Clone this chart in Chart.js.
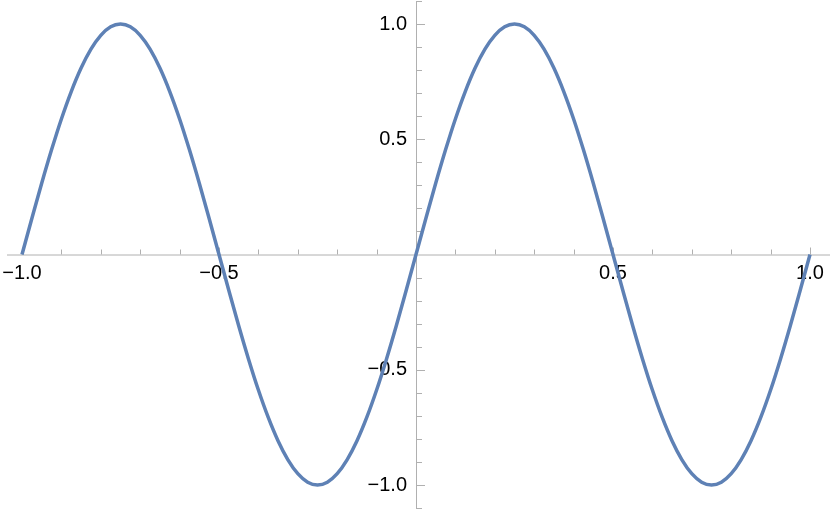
<!DOCTYPE html>
<html>
<head>
<meta charset="utf-8">
<script src="https://cdn.jsdelivr.net/npm/chart.js@4/dist/chart.umd.min.js"></script>
<style>
  html, body { margin: 0; padding: 0; background: #fff; }
  #wrap { width: 830px; height: 512px; }
</style>
</head>
<body>
<div id="wrap"><canvas id="plot" width="830" height="512"></canvas></div>
<script>
// sample points
var xs = [
  -1.0, -0.975, -0.95, -0.925, -0.9, -0.875, -0.85, -0.825, -0.8, -0.775,
  -0.75, -0.725, -0.7, -0.675, -0.65, -0.625, -0.6, -0.575, -0.55, -0.525,
  -0.5, -0.475, -0.45, -0.425, -0.4, -0.375, -0.35, -0.325, -0.3, -0.275,
  -0.25, -0.225, -0.2, -0.175, -0.15, -0.125, -0.1, -0.075, -0.05, -0.025,
  0.0, 0.025, 0.05, 0.075, 0.1, 0.125, 0.15, 0.175, 0.2, 0.225,
  0.25, 0.275, 0.3, 0.325, 0.35, 0.375, 0.4, 0.425, 0.45, 0.475,
  0.5, 0.525, 0.55, 0.575, 0.6, 0.625, 0.65, 0.675, 0.7, 0.725,
  0.75, 0.775, 0.8, 0.825, 0.85, 0.875, 0.9, 0.925, 0.95, 0.975,
  1.0
];
var ys = [
  0, 0.156, 0.309, 0.454, 0.588, 0.707, 0.809, 0.891, 0.951, 0.988,
  1, 0.988, 0.951, 0.891, 0.809, 0.707, 0.588, 0.454, 0.309, 0.156,
  0, -0.156, -0.309, -0.454, -0.588, -0.707, -0.809, -0.891, -0.951, -0.988,
  -1, -0.988, -0.951, -0.891, -0.809, -0.707, -0.588, -0.454, -0.309, -0.156,
  0, 0.156, 0.309, 0.454, 0.588, 0.707, 0.809, 0.891, 0.951, 0.988,
  1, 0.988, 0.951, 0.891, 0.809, 0.707, 0.588, 0.454, 0.309, 0.156,
  0, -0.156, -0.309, -0.454, -0.588, -0.707, -0.809, -0.891, -0.951, -0.988,
  -1, -0.988, -0.951, -0.891, -0.809, -0.707, -0.588, -0.454, -0.309, -0.156,
  0
];
var xTickLabels = [-1.0, -0.5, 0.5, 1.0];
var yTickLabels = [-1.0, -0.5, 0.5, 1.0];

var points = xs.map(function(x, i) { return { x: x, y: ys[i] }; });

function fmt(v) {
  var s = Math.abs(v).toFixed(1);
  return (v < 0 ? '\u2212' : '') + s;
}

// draws Mathematica style axes crossing at the origin
var originAxes = {
  id: 'originAxes',
  beforeDatasetsDraw: function(chart) {
    var c = chart.ctx, sx = chart.scales.x, sy = chart.scales.y;
    var x0 = sx.getPixelForValue(0), y0 = sy.getPixelForValue(0);
    c.save();
    c.strokeStyle = '#b0b0b0';
    c.lineWidth = 1;
    c.beginPath();
    c.moveTo(7, y0 + 0.5); c.lineTo(830, y0 + 0.5);
    c.moveTo(x0 + 0.5, 1); c.lineTo(x0 + 0.5, 508);
    for (var i = -10; i <= 10; i++) {
      if (i === 0) continue;
      var major = i % 5 === 0;
      var px = Math.round(sx.getPixelForValue(i / 10)) + 0.5;
      c.moveTo(px, y0); c.lineTo(px, y0 - (major ? 7 : 5));
      var py = Math.round(sy.getPixelForValue(i / 10)) + 0.5;
      c.moveTo(x0, py); c.lineTo(x0 + (major ? 9 : 6), py);
    }
    c.stroke();
    // small extra ticks past the ends of the y range
    c.beginPath();
    [1.1, -1.1].forEach(function(v) {
      var py = Math.round(sy.getPixelForValue(v)) + 0.5;
      c.moveTo(x0, py); c.lineTo(x0 + 6, py);
    });
    c.stroke();

    c.fillStyle = '#000';
    c.font = '20px "Liberation Sans", Arial, sans-serif';
    c.textAlign = 'center';
    c.textBaseline = 'top';
    xTickLabels.forEach(function(v) {
      c.fillText(fmt(v), sx.getPixelForValue(v), y0 + 9);
    });
    c.textAlign = 'right';
    c.textBaseline = 'middle';
    yTickLabels.forEach(function(v) {
      c.fillText(fmt(v), x0 - 9, sy.getPixelForValue(v));
    });
    c.restore();
  }
};

var chart = new Chart(document.getElementById('plot'), {
  type: 'scatter',
  data: {
    datasets: [{
      data: points,
      showLine: true,
      borderColor: '#5e81b5',
      borderWidth: 3.5,
      pointRadius: 0,
      cubicInterpolationMode: 'monotone',
      clip: false
    }]
  },
  options: {
    responsive: false,
    animation: false,
    layout: { padding: { left: 22, right: 20, top: 24, bottom: 27 } },
    plugins: { legend: { display: false }, tooltip: { enabled: false } },
    scales: {
      x: { type: 'linear', min: -1, max: 1, display: false },
      y: { type: 'linear', min: -1, max: 1, display: false }
    }
  },
  plugins: [originAxes]
});
</script>
</body>
</html>
